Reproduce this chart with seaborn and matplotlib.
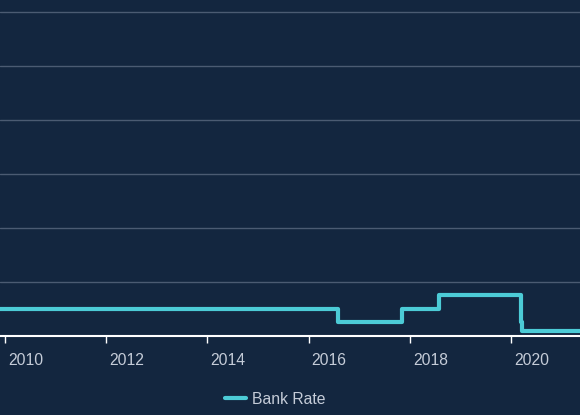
import matplotlib
matplotlib.use("Agg")
import matplotlib.pyplot as plt
import matplotlib.dates as mdates
import matplotlib.transforms as mtransforms
import seaborn as sns
import pandas as pd

# Data: Bank Rate (%) change dates
change_dates = ["2009-03-05", "2016-08-04", "2017-11-02", "2018-08-02",
                "2020-03-11", "2020-03-19", "2021-06-30"]
bank_rate = [0.5, 0.25, 0.5, 0.75, 0.25, 0.1, 0.1]
tick_years = [2010, 2012, 2014, 2016, 2018, 2020]
series_name = "Bank Rate"

BG = "#13263f"
LINE = "#4ccbd6"
GRID = "#4b5b72"
TXT = "#c5ccd8"

df = pd.DataFrame({"date": pd.to_datetime(change_dates), "rate": bank_rate,
                   "series": series_name})

sns.set_theme(style="dark")
plt.rcParams["font.family"] = ["Liberation Sans", "DejaVu Sans"]

fig = plt.figure(figsize=(5.8, 4.15), dpi=100, facecolor=BG)
ax = fig.add_axes([0, 79 / 415, 1, 336 / 415])
ax.set_facecolor(BG)

sns.lineplot(data=df, x="date", y="rate", hue="series", palette=[LINE],
             drawstyle="steps-post", linewidth=3, ax=ax, legend=True)

ax.set_xlim(pd.Timestamp("2009-11-26"), pd.Timestamp("2021-05-13"))
ax.set_ylim(0, 6.222)
ax.set_yticks([1, 2, 3, 4, 5, 6])
ax.yaxis.grid(True, color=GRID, linewidth=1)
ax.xaxis.grid(False)
ax.tick_params(axis="y", left=False, labelleft=False)

ticks = [pd.Timestamp(f"{y}-01-01") for y in tick_years]
ax.set_xticks(ticks)
ax.set_xticklabels([str(y) for y in tick_years], ha="left")
ax.tick_params(axis="x", bottom=True, direction="out", length=5, width=1,
               color="white", labelcolor=TXT, labelsize=11.3, pad=7)
offset = mtransforms.ScaledTranslation(3 / 100, 0, fig.dpi_scale_trans)
for lab in ax.get_xticklabels():
    lab.set_transform(lab.get_transform() + offset)

for s in ["top", "right", "left"]:
    ax.spines[s].set_visible(False)
ax.spines["bottom"].set_color("white")
ax.spines["bottom"].set_linewidth(1.5)
ax.set_xlabel("")
ax.set_ylabel("")

leg = ax.legend(loc="center", bbox_to_anchor=(0.475, 16 / 415),
                bbox_transform=fig.transFigure, frameon=False,
                handlelength=1.3, handletextpad=0.4, fontsize=11.3)
for t in leg.get_texts():
    t.set_color(TXT)

fig.savefig("out.png", dpi=100, facecolor=BG)
